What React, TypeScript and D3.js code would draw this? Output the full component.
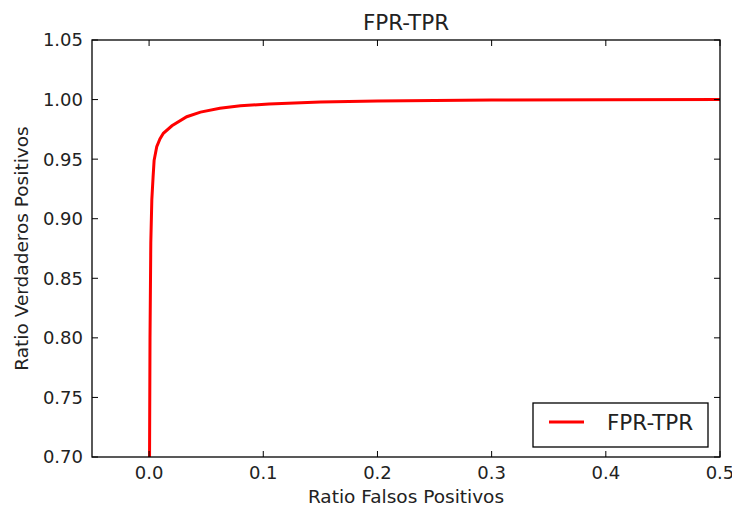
import React from "react";
import * as d3 from "d3";

// ROC curve points (FPR, TPR)
const fpr = [0, 0.0004, 0.0008, 0.0015, 0.0024, 0.0035, 0.0044, 0.0067, 0.0095, 0.0125, 0.02, 0.033, 0.045, 0.062, 0.08, 0.105, 0.15, 0.2, 0.3, 0.4, 0.5, 1];
const tpr = [0, 0.7, 0.8, 0.88, 0.916, 0.935, 0.949, 0.9604, 0.967, 0.9717, 0.978, 0.9856, 0.9895, 0.9927, 0.9948, 0.9963, 0.998, 0.9989, 0.9996, 0.9999, 1.0, 1.0];

const xTicks = [0.0, 0.1, 0.2, 0.3, 0.4, 0.5];
const yTicks = [0.7, 0.75, 0.8, 0.85, 0.9, 0.95, 1.0, 1.05];

const W = 732, H = 510;
const margin = { top: 40, right: 12, bottom: 53, left: 92 };
const FONT = "DejaVu Sans, sans-serif";

export default function App() {
  const w = W - margin.left - margin.right;
  const h = H - margin.top - margin.bottom;

  const x = d3.scaleLinear().domain([-0.05, 0.5]).range([0, w]);
  const y = d3.scaleLinear().domain([0.7, 1.05]).range([h, 0]);

  const points: [number, number][] = fpr.map((f, i) => [f, tpr[i]]);
  const line = d3.line<[number, number]>().x((d) => x(d[0])).y((d) => y(d[1]));

  const tk = 6;

  return (
    <svg width={W} height={H} style={{ position: "absolute", left: 0, top: 0, background: "#fff" }} fontFamily={FONT}>
      <defs>
        <clipPath id="plotclip">
          <rect x={0} y={0} width={w} height={h} />
        </clipPath>
      </defs>
      <text x={margin.left + w / 2} y={30} textAnchor="middle" fontSize={21.5} fill="#222">FPR-TPR</text>
      <g transform={`translate(${margin.left},${margin.top})`}>
        <path d={line(points) || ""} fill="none" stroke="#ff0000" strokeWidth={3} clipPath="url(#plotclip)" />

        {xTicks.map((t) => (
          <g key={"x" + t}>
            <line x1={x(t)} x2={x(t)} y1={h} y2={h - tk} stroke="#000" />
            <line x1={x(t)} x2={x(t)} y1={0} y2={tk} stroke="#000" />
            <text x={x(t)} y={h + 22} textAnchor="middle" fontSize={18} fill="#222">{t.toFixed(1)}</text>
          </g>
        ))}
        {yTicks.map((t) => (
          <g key={"y" + t}>
            <line x1={0} x2={tk} y1={y(t)} y2={y(t)} stroke="#000" />
            <line x1={w} x2={w - tk} y1={y(t)} y2={y(t)} stroke="#000" />
            <text x={-9} y={y(t)} dy="0.36em" textAnchor="end" fontSize={18} fill="#222">{t.toFixed(2)}</text>
          </g>
        ))}

        <rect x={0} y={0} width={w} height={h} fill="none" stroke="#000" strokeWidth={1.3} />

        {/* legend */}
        <g transform={`translate(${w - 187},${h - 54})`}>
          <rect x={0} y={0} width={175} height={44} fill="#fff" stroke="#000" strokeWidth={1.3} />
          <line x1={16} x2={51} y1={19} y2={19} stroke="#ff0000" strokeWidth={3} />
          <text x={74} y={19} dy="0.36em" fontSize={21.5} fill="#222">FPR-TPR</text>
        </g>
      </g>
      <text x={margin.left + w / 2} y={503} textAnchor="middle" fontSize={18.5} fill="#222">Ratio Falsos Positivos</text>
      <text transform={`translate(28,${margin.top + h / 2}) rotate(-90)`} textAnchor="middle" fontSize={18.5} fill="#222">Ratio Verdaderos Positivos</text>
    </svg>
  );
}
